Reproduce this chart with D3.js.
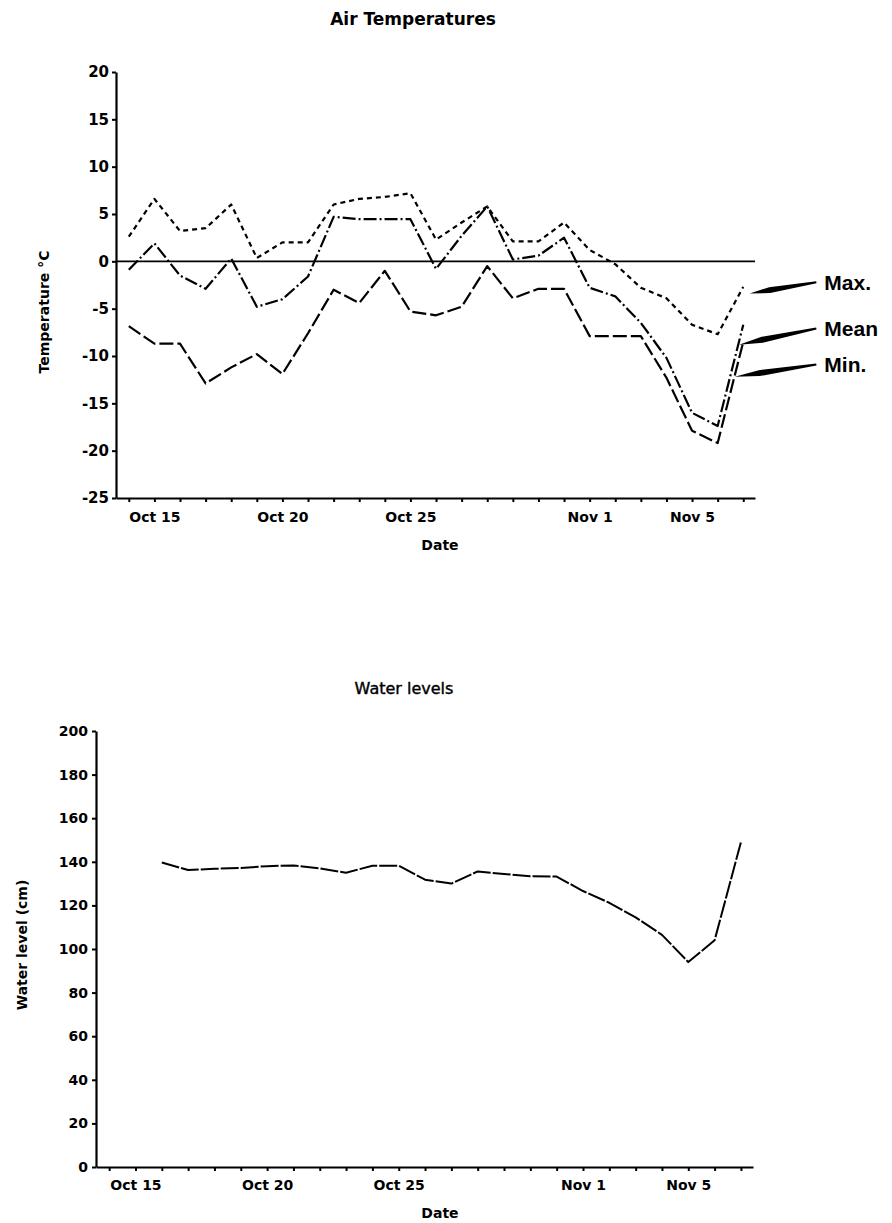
<!DOCTYPE html>
<html><head><meta charset="utf-8">
<script src="https://cdn.jsdelivr.net/npm/d3@7"></script>
<style>
body{margin:0;background:#fff;}
svg text{font-family:"DejaVu Sans",sans-serif;}
</style></head><body>
<svg id="c" width="892" height="1223"></svg>
<script>
// ---------- data ----------
const dates = ["Oct 14","Oct 15","Oct 16","Oct 17","Oct 18","Oct 19","Oct 20","Oct 21","Oct 22","Oct 23","Oct 24","Oct 25","Oct 26","Oct 27","Oct 28","Oct 29","Oct 30","Oct 31","Nov 1","Nov 2","Nov 3","Nov 4","Nov 5","Nov 6","Nov 7"];
const maxTemp  = [2.6, 6.6, 3.2, 3.5, 6.0, 0.35, 2.0, 2.0, 6.0, 6.6, 6.8, 7.2, 2.3, 4.1, 5.8, 2.1, 2.1, 4.1, 1.2, -0.3, -2.8, -3.9, -6.7, -7.7, -2.7];
const meanTemp = [-0.9, 1.9, -1.5, -2.9, 0.3, -4.8, -4.0, -1.6, 4.7, 4.45, 4.45, 4.45, -0.8, 2.7, 5.8, 0.2, 0.6, 2.5, -2.8, -3.7, -6.5, -10.2, -16.0, -17.4, -6.7];
const minTemp  = [-6.85, -8.7, -8.7, -12.9, -11.2, -9.8, -11.9, -7.6, -3.0, -4.4, -1.0, -5.3, -5.7, -4.8, -0.5, -3.9, -2.9, -2.9, -7.9, -7.9, -7.9, -12.3, -17.9, -19.2, -8.5];
const tempTicks = [20, 15, 10, 5, 0, -5, -10, -15, -20, -25];
const dateTickLabels = ["Oct 15", "Oct 20", "Oct 25", "Nov 1", "Nov 5"];

const waterDates = ["Oct 16","Oct 17","Oct 18","Oct 19","Oct 20","Oct 21","Oct 22","Oct 23","Oct 24","Oct 25","Oct 26","Oct 27","Oct 28","Oct 29","Oct 30","Oct 31","Nov 1","Nov 2","Nov 3","Nov 4","Nov 5","Nov 6","Nov 7"];
const waterLevel = [139.7, 136.2, 136.8, 137.2, 138.0, 138.3, 137.0, 135.0, 138.2, 138.2, 131.8, 130.0, 135.6, 134.4, 133.4, 133.2, 126.6, 121.2, 114.5, 106.5, 94, 104, 149];
const waterTicks = [0, 20, 40, 60, 80, 100, 120, 140, 160, 180, 200];

const legendLabels = ["Max.", "Mean", "Min."];
const legendLabelValues = [-2.2, -7.1, -10.9];   // label height in °C
const arrowTipValues = [-3.4, -8.8, -12.2];      // arrow tip height in °C
const arrowTipHours = [6, -4, -8];               // arrow tip offset from Nov 7 (hours)

// ---------- helpers ----------
const parse = s => d3.timeParse("%b %e %Y")(s + " 1990");
const fmt = d3.timeFormat("%b %-d");
const hourOff = (d, h) => d3.timeHour.offset(d, h);
const svg = d3.select("#c");
const labelSet = new Set(dateTickLabels);
const firstDay = parse(dates[0]), lastDay = parse(dates[dates.length - 1]);
const allDays = d3.timeDay.range(firstDay, d3.timeDay.offset(lastDay, 1));
const numFmt = v => String(v);   // plain hyphen-minus like the original

function styleAxis(g, fs) {
  g.selectAll(".domain").attr("stroke", "#000").attr("stroke-width", 2.2);
  g.selectAll(".tick line").attr("stroke", "#000").attr("stroke-width", 2);
  g.selectAll(".tick text").attr("fill", "#000")
    .style("font-family", '"DejaVu Sans",sans-serif')
    .style("font-weight", "bold").style("font-size", fs + "px");
}

// ---------- top chart: air temperatures ----------
const xT = d3.scaleTime()
  .domain([hourOff(firstDay, -11.5), hourOff(lastDay, 11)])
  .range([116, 755]);
const yT = d3.scaleLinear().domain([-25, 20]).range([498, 72]);

svg.append("text").attr("x", 413).attr("y", 25).attr("text-anchor", "middle")
  .style("font-weight", "bold").style("font-size", "17px").text("Air Temperatures");

// zero line
svg.append("line").attr("x1", xT.range()[0]).attr("x2", xT.range()[1])
  .attr("y1", yT(0)).attr("y2", yT(0)).attr("stroke", "#000").attr("stroke-width", 1.6);

const tDates = dates.map(parse);
const series = [
  {vals: maxTemp, dash: "5,4"},
  {vals: meanTemp, dash: "13,3,2,3"},
  {vals: minTemp, dash: "14,4"}
];
const lineT = d3.line().x(d => xT(d[0])).y(d => yT(d[1]));
series.forEach(s => {
  svg.append("path").datum(tDates.map((d, i) => [d, s.vals[i]]))
    .attr("d", lineT).attr("fill", "none").attr("stroke", "#000")
    .attr("stroke-width", 2.2).attr("stroke-dasharray", s.dash)
    .attr("stroke-linejoin", "round");
});

const gyT = svg.append("g").attr("transform", `translate(${xT.range()[0]},0)`)
  .call(d3.axisLeft(yT).tickValues(tempTicks).tickFormat(numFmt).tickSize(4).tickSizeOuter(0).tickPadding(3));
styleAxis(gyT, 15);
const gxT = svg.append("g").attr("transform", `translate(0,${yT.range()[0]})`)
  .call(d3.axisBottom(xT).tickValues(allDays).tickSize(4).tickSizeOuter(0).tickPadding(10)
    .tickFormat(d => labelSet.has(fmt(d)) ? fmt(d) : ""));
styleAxis(gxT, 14);

svg.append("text").attr("transform", "translate(49,312) rotate(-90)")
  .attr("text-anchor", "middle").style("font-weight", "bold").style("font-size", "14px")
  .text("Temperature °C");
svg.append("text").attr("x", 440).attr("y", 550).attr("text-anchor", "middle")
  .style("font-weight", "bold").style("font-size", "14px").text("Date");

// legend arrows + labels
legendLabels.forEach((lab, i) => {
  const tx = xT(hourOff(lastDay, 76));
  const ty = yT(legendLabelValues[i]);
  const tailX = tx - 8, tailY = ty;
  const tipX = xT(hourOff(lastDay, arrowTipHours[i])), tipY = yT(arrowTipValues[i]);
  const dx = tailX - tipX, dy = tailY - tipY, L = Math.hypot(dx, dy);
  const ux = dx / L, uy = dy / L, nx = -uy, ny = ux;
  const mx = tipX + ux * L * 0.3, my = tipY + uy * L * 0.3;
  const pts = [
    [tipX, tipY],
    [mx + nx * 3, my + ny * 3],
    [tailX + nx * 1, tailY + ny * 1],
    [tailX - nx * 1, tailY - ny * 1],
    [mx - nx * 3, my - ny * 3]
  ];
  svg.append("polygon").attr("points", pts.map(p => p.join(",")).join(" ")).attr("fill", "#000");
  svg.append("text").attr("x", tx).attr("y", ty).attr("dy", "0.36em")
    .style("font-family", '"Liberation Sans",Arial,sans-serif')
    .style("font-weight", "bold").style("font-size", "21px").text(lab);
});

// ---------- bottom chart: water levels ----------
const xB = d3.scaleTime()
  .domain([hourOff(firstDay, -11.3), hourOff(lastDay, 11.5)])
  .range([96, 753]);
const yB = d3.scaleLinear().domain([0, 200]).range([1167, 731]);

svg.append("text").attr("x", 404).attr("y", 694).attr("text-anchor", "middle")
  .style("font-size", "16px").style("stroke", "#000").style("stroke-width", 0.4).text("Water levels");

const wDates = waterDates.map(parse);
svg.append("path").datum(wDates.map((d, i) => [d, waterLevel[i]]))
  .attr("d", d3.line().x(d => xB(d[0])).y(d => yB(d[1])))
  .attr("fill", "none").attr("stroke", "#000").attr("stroke-width", 2)
  .attr("stroke-dasharray", "18,2").attr("stroke-linejoin", "round");

const gyB = svg.append("g").attr("transform", `translate(${xB.range()[0]},0)`)
  .call(d3.axisLeft(yB).tickValues(waterTicks).tickFormat(numFmt).tickSize(4).tickSizeOuter(0).tickPadding(4));
styleAxis(gyB, 14);
const gxB = svg.append("g").attr("transform", `translate(0,${yB.range()[0]})`)
  .call(d3.axisBottom(xB).tickValues(allDays).tickSize(4).tickSizeOuter(0).tickPadding(9)
    .tickFormat(d => labelSet.has(fmt(d)) ? fmt(d) : ""));
styleAxis(gxB, 14);

svg.append("text").attr("transform", "translate(27,945) rotate(-90)")
  .attr("text-anchor", "middle").style("font-weight", "bold").style("font-size", "14px")
  .text("Water level (cm)");
svg.append("text").attr("x", 440).attr("y", 1218).attr("text-anchor", "middle")
  .style("font-weight", "bold").style("font-size", "14px").text("Date");
</script>
</body></html>
